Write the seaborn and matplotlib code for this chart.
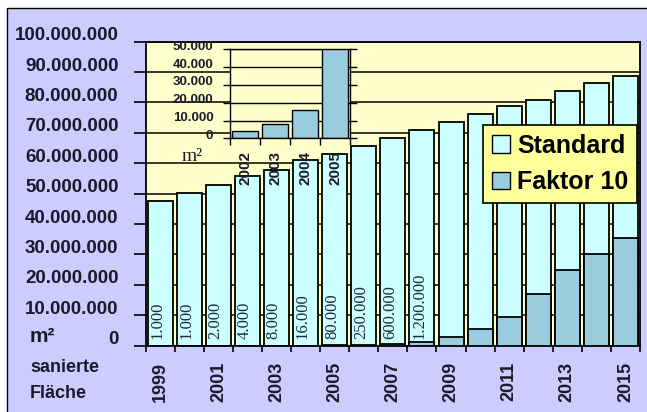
import numpy as np
import pandas as pd
import matplotlib
matplotlib.use("Agg")
import matplotlib.pyplot as plt
from matplotlib.patches import Rectangle, Patch
from matplotlib.transforms import ScaledTranslation
import seaborn as sns

# ---- data -------------------------------------------------------------
jahre = [str(y) for y in range(1999, 2016)]
standard = [47_700_000, 50_200_000, 53_000_000, 55_700_000, 57_900_000,
            60_900_000, 62_900_000, 65_450_000, 67_700_000, 69_700_000,
            70_800_000, 70_700_000, 69_300_000, 63_900_000, 58_700_000,
            56_300_000, 53_500_000]
faktor10 = [1_000, 1_000, 2_000, 4_000, 8_000, 16_000, 80_000, 250_000,
            600_000, 1_200_000, 2_700_000, 5_500_000, 9_500_000,
            17_000_000, 25_000_000, 30_000_000, 35_300_000]
y_labels = ["0", "10.000.000", "20.000.000", "30.000.000", "40.000.000",
            "50.000.000", "60.000.000", "70.000.000", "80.000.000",
            "90.000.000", "100.000.000"]

inset_jahre = ["2002", "2003", "2004", "2005"]
inset_werte = [4_000, 8_000, 16_000, 80_000]
inset_labels = ["0", "10.000", "20.000", "30.000", "40.000", "50.000"]

serien = ["Standard", "Faktor 10"]

# ---- colours ------------------------------------------------------------
LAVENDER = "#ccccff"
PLOT_BG = "#ffffcc"
LEG_BG = "#ffff99"
CYAN = "#ccffff"
BLUE = "#99ccdd"
TXT = "#1a1a2a"

sns.set_theme(style="ticks")
plt.rcParams["font.family"] = ["Liberation Sans", "DejaVu Sans"]

W, H = 647, 412
fig = plt.figure(figsize=(W / 100, H / 100), dpi=100)
fig.patch.set_facecolor("white")

# lavender chart area with its frame
fig.add_artist(Rectangle((7 / W, -0.1), 2, (H - 8) / H + 0.1,
                         transform=fig.transFigure, facecolor=LAVENDER,
                         edgecolor="black", lw=1.0, zorder=-10))

# ---- main chart ------------------------------------------------------------
ax = fig.add_axes([145.7 / W, (H - 345.6) / H, (640 - 145.7) / W, (345.6 - 41.7) / H])
ax.set_facecolor(PLOT_BG)

df = pd.DataFrame({"Jahr": jahre, "Standard": standard, "Faktor 10": faktor10})
df["Gesamt"] = df["Standard"] + df["Faktor 10"]

sns.barplot(data=df, x="Jahr", y="Gesamt", color=CYAN, saturation=1,
            width=0.86, edgecolor="black", linewidth=1.3, errorbar=None,
            ax=ax, zorder=2)
sns.barplot(data=df, x="Jahr", y="Faktor 10", color=BLUE, saturation=1,
            width=0.86, edgecolor="black", linewidth=1.3, errorbar=None,
            ax=ax, zorder=3)

ax.set_xlabel("")
ax.set_ylabel("")
ax.set_xlim(-0.5, len(jahre) - 0.5)
ax.set_ylim(0, 100_000_000)
ax.set_yticks(np.arange(0, 100_000_001, 10_000_000))
ax.set_yticklabels(y_labels, fontsize=13.5, fontweight="bold", color=TXT)
ax.yaxis.grid(True, color="black", lw=1.1)
ax.xaxis.grid(False)
ax.set_axisbelow(True)

ax.set_xticks(range(len(jahre)))
ax.set_xticklabels([j if int(j) % 2 else "" for j in jahre], rotation=90,
                   fontsize=13, fontweight="bold", color=TXT)
ax.set_xticks(np.arange(-0.5, len(jahre), 1), minor=True)
ax.tick_params(axis="x", which="major", length=0, pad=11.5)
ax.tick_params(axis="x", which="minor", length=4, width=1.2, color="black",
               direction="out", bottom=True)
ax.tick_params(axis="y", length=8.6, width=1.2, color="black", direction="out",
               pad=11, left=True)
for sp in ax.spines.values():
    sp.set_visible(True)
    sp.set_color("black")
    sp.set_linewidth(1.3)

for lab in ax.get_yticklabels():
    lab.set_transform(lab.get_transform() + ScaledTranslation(0, 8 / 100, fig.dpi_scale_trans))

# Faktor-10 values written into the early bars
for i, v in enumerate(faktor10[:10]):
    ax.annotate(f"{v:,}".replace(",", "."), xy=(i, 0), xytext=(-2, 5),
                textcoords="offset points", rotation=90, ha="center",
                va="bottom", fontsize=12, family="Liberation Serif",
                color="#1f2a3a", zorder=6)

fig.text(30 / W, 1 - 336 / H, "m²", ha="left", va="center", fontsize=15,
         fontweight="bold", color=TXT)
fig.text(30 / W, 1 - 368 / H, "sanierte", ha="left", va="center", fontsize=13,
         fontweight="bold", color=TXT)
fig.text(30 / W, 1 - 393 / H, "Fläche", ha="left", va="center", fontsize=13,
         fontweight="bold", color=TXT)

# ---- inset: early Faktor-10 years ----------------------------------------------
axi = fig.add_axes([230 / W, (H - 138.3) / H, 120 / W, (138.3 - 49.3) / H])
axi.set_facecolor(PLOT_BG)
sns.barplot(x=inset_jahre, y=inset_werte, color=BLUE, saturation=1,
            width=0.88, edgecolor="black", linewidth=1.0, errorbar=None,
            ax=axi, zorder=2)
axi.set_xlabel("")
axi.set_ylabel("")
axi.set_xlim(-0.5, len(inset_jahre) - 0.5)
axi.set_ylim(0, 50_000)
axi.set_yticks(np.arange(0, 50_001, 10_000))
axi.set_yticklabels(inset_labels, fontsize=9.5, fontweight="bold", color=TXT)
axi.yaxis.grid(True, color="black", lw=1.0)
axi.xaxis.grid(False)
axi.set_axisbelow(True)
axi.set_xticks(range(len(inset_jahre)))
axi.set_xticklabels(inset_jahre, rotation=90, fontsize=11, fontweight="bold",
                    color=TXT)
axi.set_xticks(np.arange(-0.5, len(inset_jahre), 1), minor=True)
axi.tick_params(axis="x", which="major", length=0, pad=9.5)
axi.tick_params(axis="x", which="minor", length=5, width=1.0, color="black",
                direction="out", bottom=True)
axi.tick_params(axis="y", length=5, width=1.0, color="black", direction="out",
                pad=7, left=True, right=True, labelright=False)
for sp in axi.spines.values():
    sp.set_visible(True)
    sp.set_color("black")
    sp.set_linewidth(1.0)
for lab in axi.get_yticklabels():
    lab.set_transform(lab.get_transform() + ScaledTranslation(0, 4 / 100, fig.dpi_scale_trans))

fig.text(192 / W, 1 - 157 / H, "m²", ha="center", va="center", fontsize=14,
         family="Liberation Serif", color=TXT)

# ---- legend -------------------------------------------------------------
handles = [Patch(facecolor=CYAN, edgecolor="black", lw=1.0),
           Patch(facecolor=BLUE, edgecolor="black", lw=1.0)]
leg = fig.legend(handles, serien, loc="upper right",
                 bbox_to_anchor=(637 / W, 1 - 125 / H),
                 prop={"size": 18, "weight": "bold", "family": "Liberation Sans"},
                 frameon=True, fancybox=False, facecolor=LEG_BG,
                 edgecolor="black", framealpha=1, handlelength=0.72,
                 handleheight=0.72, handletextpad=0.3, borderpad=0.35,
                 labelspacing=0.5, borderaxespad=0)
leg.get_frame().set_linewidth(1.2)
for t in leg.get_texts():
    t.set_color("black")
leg.set_zorder(10)

fig.savefig("out.png", dpi=100, facecolor=fig.get_facecolor())
